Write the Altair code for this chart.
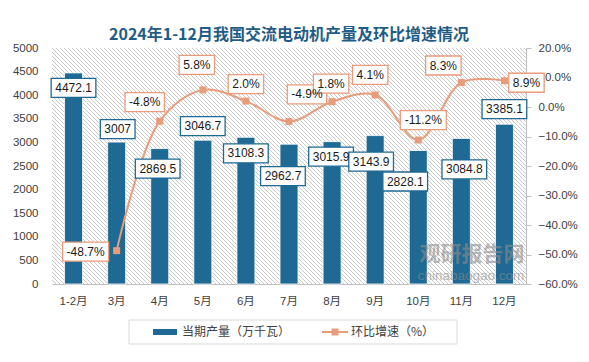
import altair as alt
import pandas as pd

# ---------------- data ----------------
months = ["1-2月", "3月", "4月", "5月", "6月", "7月", "8月", "9月", "10月", "11月", "12月"]
output = [4472.1, 3007, 2869.5, 3046.7, 3108.3, 2962.7, 3015.9, 3143.9, 2828.1, 3084.8, 3385.1]
growth = [None, -48.7, -4.8, 5.8, 2.0, -4.9, 1.8, 4.1, -11.2, 8.3, 8.9]
output_labels = ["4472.1", "3007", "2869.5", "3046.7", "3108.3", "2962.7",
                 "3015.9", "3143.9", "2828.1", "3084.8", "3385.1"]
growth_labels = [None, "-48.7%", "-4.8%", "5.8%", "2.0%", "-4.9%", "1.8%",
                 "4.1%", "-11.2%", "8.3%", "8.9%"]
left_ticks = list(range(0, 5001, 500))
right_ticks = list(range(-60, 21, 10))

# label nudges in pixels (mimicking the original label placement)
bar_label_dx = [0, 1, -2, 0, 0, -6, -1, -4, -13, 3, 0]
bar_label_dy = [15, -13, 20, -14, 16, 32, 15, 26, 31, 31, -15]
line_label_dx = [0, -31, -15, -6, 0, 18, -1, -5, 5, -18, 22]
line_label_dy = [0, 1, -19, -25, -17, -27, -18, -20, -20, -17, 2]

# ---------------- styling ----------------
W, H = 474, 236
BAR = "#1f6a94"
LINE = "#e99c7b"
AXIS_TXT = "#404040"
NUM_FONT = "Liberation Sans, Noto Sans CJK SC"
CJK_FONT = "Noto Sans CJK SC"

CW = {".": 3.336, "-": 3.996, "%": 10.67}


def text_w(s, fs=12):
    return sum(CW.get(c, 6.674) for c in s) * fs / 12


def box_path(label, dx, dy):
    w = text_w(label) + 8
    h = 19
    return f"M{dx - w / 2:.1f},{dy - h / 2:.1f}h{w:.1f}v{h}h{-w:.1f}Z"


def hatch_path(w, h, step):
    # light downward-diagonal pattern as one path of short segments (decoration only)
    segs = []
    c = -h
    while c <= w:
        x0, y0 = c, 0.0
        x1, y1 = c + h, float(h)
        if x0 < 0:
            y0, x0 = -x0, 0.0
        if x1 > w:
            y1, x1 = h - (x1 - w), float(w)
        segs.append(f"M{x0:.1f},{y0:.1f}L{x1:.1f},{y1:.1f}")
        c += step
    return "".join(segs)


df = pd.DataFrame({"month": months, "output": output, "growth": growth,
                   "olab": output_labels, "glab": growth_labels,
                   "bdx": bar_label_dx, "bdy": bar_label_dy,
                   "ldx": line_label_dx, "ldy": line_label_dy})
df["bpath"] = [box_path(l, dx, dy) for l, dx, dy in zip(output_labels, bar_label_dx, bar_label_dy)]
gdf = df.dropna(subset=["growth"]).copy()
gdf["lpath"] = [box_path(l, dx, dy) for l, dx, dy in zip(gdf["glab"], gdf["ldx"], gdf["ldy"])]

xenc = alt.X("month:N", sort=months, title=None,
             scale=alt.Scale(paddingInner=0, paddingOuter=0),
             axis=alt.Axis(labelAngle=0, domainColor="#bfbfbf", ticks=False, tickSize=0,
                           labelPadding=11, labelFont=NUM_FONT, labelFontSize=11.5,
                           labelColor=AXIS_TXT))

yleft = alt.Scale(domain=[0, 5000], nice=False, zero=False)
yright = alt.Scale(domain=[-60, 20], nice=False, zero=False)

one = pd.DataFrame({"k": [0]})

# background hatch: a single symbol (size 4 -> path in pixel units) anchored at the plot origin
hatch = alt.Chart(one).mark_point(shape=hatch_path(W, H, 4), size=4, filled=False,
                                  stroke="#c4c4c4", strokeWidth=0.9, opacity=1).encode(
    x=alt.value(0), y=alt.value(0))

bars = alt.Chart(df).mark_bar(size=18, color=BAR, stroke="white", strokeWidth=0.8).encode(
    x=xenc,
    y=alt.Y("output:Q", scale=yleft, title=None,
            axis=alt.Axis(values=left_ticks, format="d", domain=False, ticks=False, tickSize=0,
                          grid=False, labelPadding=14, labelFont=NUM_FONT, labelFontSize=11.5,
                          labelColor=AXIS_TXT)))

line = alt.Chart(gdf).mark_line(color=LINE, strokeWidth=2, interpolate="catmull-rom").encode(
    x=alt.X("month:N", sort=months),
    y=alt.Y("growth:Q", scale=yright, title=None,
            axis=alt.Axis(orient="right", values=right_ticks, grid=False,
                          labelExpr="format(datum.value, '.1f') + '%'",
                          domainColor="#bfbfbf", tickColor="#bfbfbf", tickSize=5,
                          labelPadding=7, labelFont=NUM_FONT, labelFontSize=11.5,
                          labelColor=AXIS_TXT)))

points = alt.Chart(gdf).mark_point(shape="square", filled=True, color=LINE, size=49, opacity=1).encode(
    x=alt.X("month:N", sort=months),
    y=alt.Y("growth:Q", scale=yright, axis=None))

bar_boxes = alt.Chart(df).mark_point(filled=True, fill="white", stroke=BAR, strokeWidth=1.3,
                                     size=4, opacity=1, fillOpacity=1, strokeOpacity=1).encode(
    x=alt.X("month:N", sort=months),
    y=alt.Y("output:Q", scale=yleft, axis=None),
    shape=alt.Shape("bpath:N", scale=None, legend=None))

bar_text = alt.Chart(df).mark_text(font=NUM_FONT, fontSize=12, color="#1a1a1a", baseline="middle",
                                   dx={"expr": "datum.bdx"}, dy={"expr": "datum.bdy"}).encode(
    x=alt.X("month:N", sort=months),
    y=alt.Y("output:Q", scale=yleft, axis=None),
    text="olab:N")

line_boxes = alt.Chart(gdf).mark_point(filled=True, fill="white", stroke=LINE, strokeWidth=1.3,
                                       size=4, opacity=1, fillOpacity=1, strokeOpacity=1).encode(
    x=alt.X("month:N", sort=months),
    y=alt.Y("growth:Q", scale=yright, axis=None),
    shape=alt.Shape("lpath:N", scale=None, legend=None))

line_text = alt.Chart(gdf).mark_text(font=NUM_FONT, fontSize=12, color="#1a1a1a", baseline="middle",
                                     dx={"expr": "datum.ldx"}, dy={"expr": "datum.ldy"}).encode(
    x=alt.X("month:N", sort=months),
    y=alt.Y("growth:Q", scale=yright, axis=None),
    text="glab:N")

# watermark
wm1 = alt.Chart(one).mark_text(text="观研报告网", font=CJK_FONT, fontSize=21, fontWeight="bold",
                               color="#8c8c8c", opacity=0.6).encode(
    x=alt.value(420), y=alt.value(207))
wm2 = alt.Chart(one).mark_text(text="chinabaogao.com", font="Liberation Sans", fontSize=13.5,
                               color="#8c8c8c", opacity=0.6).encode(
    x=alt.value(419), y=alt.value(228))

# legend (drawn below the plot)
lg_box = alt.Chart(one).mark_rect(fill="white", stroke="#d9d9d9", strokeWidth=1).encode(
    x=alt.value(77), x2=alt.value(405), y=alt.value(272), y2=alt.value(296))
lg_bar = alt.Chart(one).mark_rect(color=BAR).encode(
    x=alt.value(101), x2=alt.value(125), y=alt.value(281), y2=alt.value(287))
lg_bar_t = alt.Chart(one).mark_text(text="当期产量（万千瓦）", font=CJK_FONT, fontSize=12,
                                    color=AXIS_TXT, align="left", baseline="middle").encode(
    x=alt.value(130), y=alt.value(284))
lg_line = alt.Chart(one).mark_rule(color=LINE, strokeWidth=2).encode(
    x=alt.value(270), x2=alt.value(296), y=alt.value(284))
lg_pt = alt.Chart(one).mark_point(shape="square", filled=True, color=LINE, size=49, opacity=1).encode(
    x=alt.value(283), y=alt.value(284))
lg_line_t = alt.Chart(one).mark_text(text="环比增速（%）", font=CJK_FONT, fontSize=12,
                                     color=AXIS_TXT, align="left", baseline="middle").encode(
    x=alt.value(299), y=alt.value(284))

chart = alt.layer(
    hatch, bars, line, points, bar_boxes, bar_text, line_boxes, line_text,
    wm1, wm2, lg_box, lg_bar, lg_bar_t, lg_line, lg_pt, lg_line_t
).resolve_scale(y="independent").properties(
    width=W, height=H,
    autosize=alt.AutoSizeParams(type="none"),
    padding={"left": 44, "top": 40, "right": 53, "bottom": 66},
    background="white",
    title=alt.Title("2024年1-12月我国交流电动机产量及环比增速情况", font=CJK_FONT, fontSize=16,
                    fontWeight="bold", color="#1f5c86", anchor="middle", offset=-1),
).configure_view(stroke=None)

chart.save("out.html", embed_options={"renderer": "svg", "actions": False})
